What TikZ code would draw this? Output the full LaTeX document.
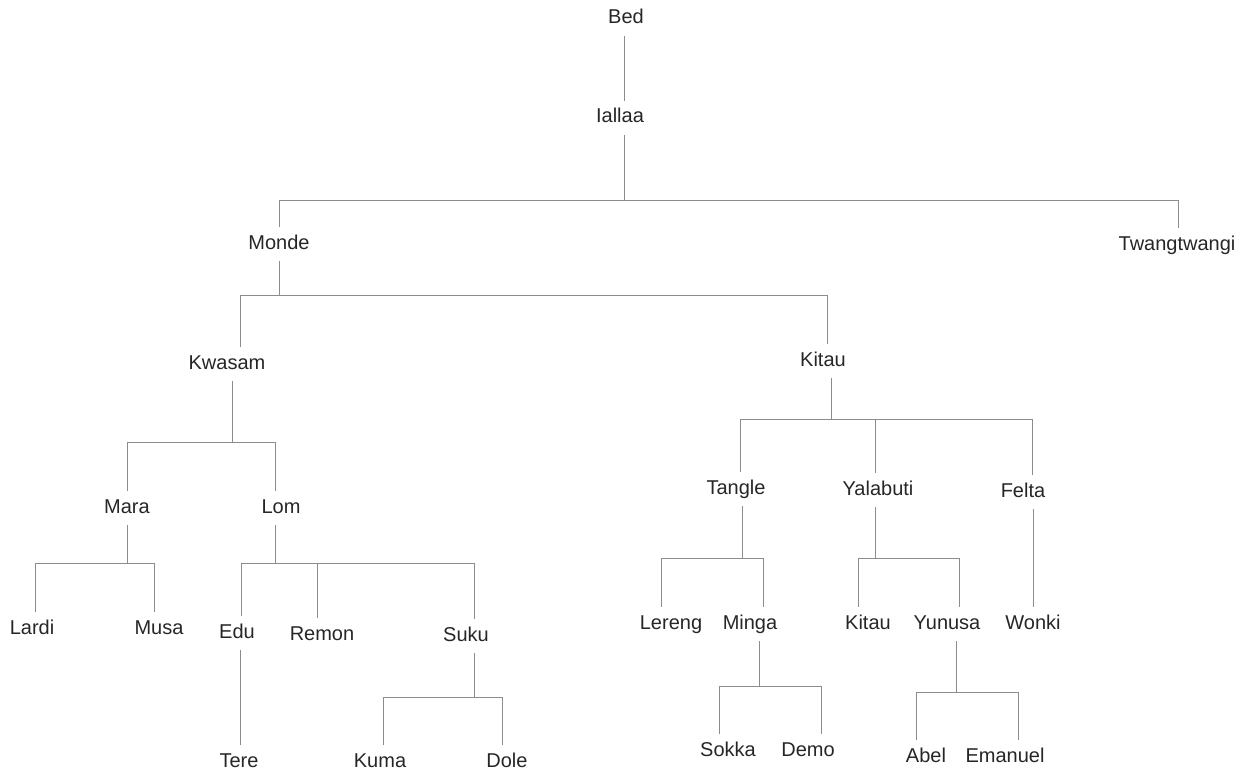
\documentclass[tikz,border=0pt]{standalone}
\usepackage{fontspec}
\setmainfont{Liberation Sans}
\begin{document}
\begin{tikzpicture}[x=1pt,y=-1pt,
  person/.style={font=\fontsize{20}{24}\selectfont, text=black!85,
    text height=15pt, text depth=5pt, inner xsep=2pt, inner ysep=7pt, anchor=center},
  link/.style={draw=black!45, line width=1pt}]
\useasboundingbox (0,0) rectangle (1248,773);

% people
\node[person] (bed)    at (626,19)  {Bed};
\node[person] (iallaa) at (620,118) {Iallaa};
\node[person] (monde)  at (279,244) {Monde};
\node[person] (twang)  at (1177,245) {Twangtwangi};
\node[person] (kwasam) at (227,364) {Kwasam};
\node[person] (kitau)  at (823,361) {Kitau};
\node[person] (mara)   at (127,508) {Mara};
\node[person] (lom)    at (281,508) {Lom};
\node[person] (tangle) at (736,489) {Tangle};
\node[person] (yala)   at (878,490) {Yalabuti};
\node[person] (felta)  at (1023,492) {Felta};
\node[person] (lardi)  at (32,629)  {Lardi};
\node[person] (musa)   at (159,629) {Musa};
\node[person] (edu)    at (237,633) {Edu};
\node[person] (remon)  at (322,635) {Remon};
\node[person] (suku)   at (466,636) {Suku};
\node[person] (lereng) at (671,624) {Lereng};
\node[person] (minga)  at (750,624) {Minga};
\node[person] (kitaub) at (868,624) {Kitau};
\node[person] (yunusa) at (947,624) {Yunusa};
\node[person] (wonki)  at (1033,624) {Wonki};
\node[person] (tere)   at (239,762) {Tere};
\node[person] (kuma)   at (380,762) {Kuma};
\node[person] (dole)   at (507,762) {Dole};
\node[person] (sokka)  at (728,751) {Sokka};
\node[person] (demo)   at (808,751) {Demo};
\node[person] (abel)   at (926,757) {Abel};
\node[person] (emanuel) at (1005,757) {Emanuel};

% Bed -> Iallaa
\draw[link] (bed.south -| 624,0) -- (iallaa.north -| 624,0);
% Iallaa -> Monde, Twangtwangi
\draw[link] (iallaa.south -| 624,0) -- (624,200);
\draw[link] (monde.north -| 279,0) |- (1178,200) -- (twang.north -| 1178,0);
% Monde -> Kwasam, Kitau
\draw[link] (monde.south -| 279,0) -- (279,295);
\draw[link] (kwasam.north -| 240,0) |- (827,295) -- (kitau.north -| 827,0);
% Kwasam -> Mara, Lom
\draw[link] (kwasam.south -| 232,0) -- (232,442);
\draw[link] (mara.north -| 127,0) |- (275,442) -- (lom.north -| 275,0);
% Kitau -> Tangle, Yalabuti, Felta
\draw[link] (kitau.south -| 831,0) -- (831,419);
\draw[link] (tangle.north -| 740,0) |- (1032,419) -- (felta.north -| 1032,0);
\draw[link] (yala.north -| 875,0) -- (875,419);
% Mara -> Lardi, Musa
\draw[link] (mara.south -| 127,0) -- (127,563);
\draw[link] (lardi.north -| 35,0) |- (154,563) -- (musa.north -| 154,0);
% Lom -> Edu, Remon, Suku
\draw[link] (lom.south -| 275,0) -- (275,563);
\draw[link] (edu.north -| 241,0) |- (474,563) -- (suku.north -| 474,0);
\draw[link] (remon.north -| 317,0) -- (317,563);
% Tangle -> Lereng, Minga
\draw[link] (tangle.south -| 742,0) -- (742,558);
\draw[link] (lereng.north -| 661,0) |- (763,558) -- (minga.north -| 763,0);
% Yalabuti -> Kitau, Yunusa
\draw[link] (yala.south -| 875,0) -- (875,558);
\draw[link] (kitaub.north -| 858,0) |- (959,558) -- (yunusa.north -| 959,0);
% Felta -> Wonki
\draw[link] (felta.south -| 1033,0) -- (wonki.north -| 1033,0);
% Edu -> Tere
\draw[link] (edu.south -| 240,0) -- (tere.north -| 240,0);
% Suku -> Kuma, Dole
\draw[link] (suku.south -| 474,0) -- (474,697);
\draw[link] (kuma.north -| 383,0) |- (502,697) -- (dole.north -| 502,0);
% Minga -> Sokka, Demo
\draw[link] (minga.south -| 759,0) -- (759,686);
\draw[link] (sokka.north -| 719,0) |- (821,686) -- (demo.north -| 821,0);
% Yunusa -> Abel, Emanuel
\draw[link] (yunusa.south -| 956,0) -- (956,692);
\draw[link] (abel.north -| 916,0) |- (1018,692) -- (emanuel.north -| 1018,0);
\end{tikzpicture}
\end{document}
